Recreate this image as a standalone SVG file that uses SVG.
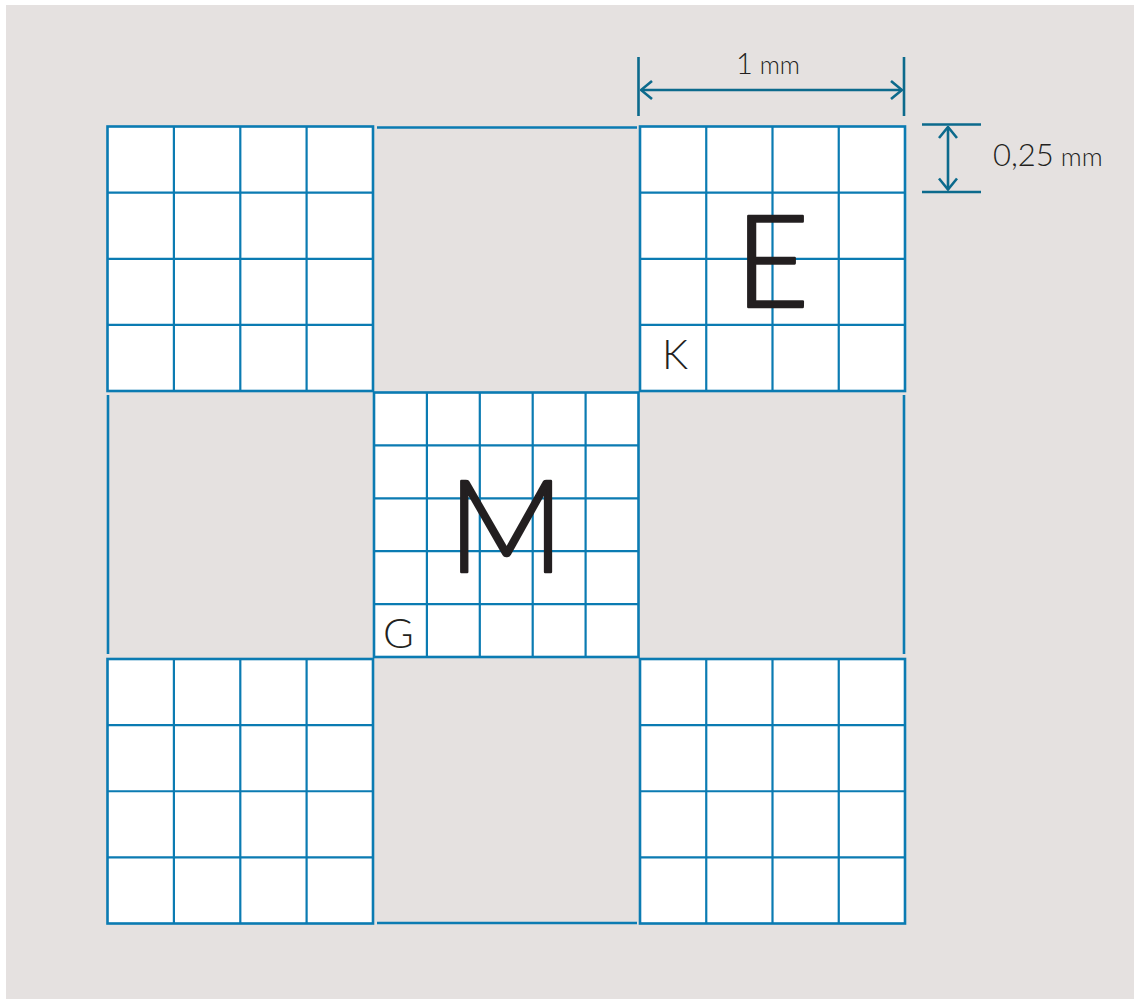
<svg xmlns="http://www.w3.org/2000/svg" width="1134" height="999" viewBox="0 0 1134 999">
  <defs>
    <style>
      .cell{fill:#ffffff;stroke:#0b7bb2;stroke-width:2.6}
      .grid{fill:none;stroke:#0b7bb2;stroke-width:2.2}
      .edge{fill:none;stroke:#0b7bb2;stroke-width:2.6}
      .dim{fill:none;stroke:#0c6a8c;stroke-width:2.6}
      .lbl{font-family:Lato,"Noto Sans","Liberation Sans",sans-serif;fill:#231f20}
      .big{font-weight:300;stroke:#231f20;stroke-width:2.6;stroke-linejoin:round}
    </style>
    <marker id="chev" viewBox="-13 -10 14 20" markerWidth="14" markerHeight="20" refX="0" refY="0" orient="auto-start-reverse" markerUnits="userSpaceOnUse">
      <path d="M-11,-9 L0,0 L-11,9" fill="none" stroke="#0c6a8c" stroke-width="2.6"/>
    </marker>
  </defs>
  <rect x="0" y="0" width="1134" height="999" fill="#ffffff"/>
  <rect x="6" y="5" width="1128" height="994" fill="#e5e1e0"/>

  <g id="grid-top-left">
    <rect class="cell" x="107.5" y="126.5" width="265.5" height="264.5"/>
    <path class="grid" d="M173.9,126.5V391M240.3,126.5V391M306.6,126.5V391M107.5,192.6H373M107.5,258.8H373M107.5,324.9H373"/>
  </g>
  <g id="grid-top-right">
    <rect class="cell" x="640" y="126.5" width="265" height="264.5"/>
    <path class="grid" d="M706.25,126.5V391M772.5,126.5V391M838.75,126.5V391M640,192.6H905M640,258.8H905M640,324.9H905"/>
    <text class="lbl big" x="735" y="307" font-size="128">E</text>
    <text class="lbl" x="662" y="369" font-size="41" font-weight="300">K</text>
  </g>
  <g id="grid-center">
    <rect class="cell" x="374" y="392.5" width="264.5" height="264.5"/>
    <path class="grid" d="M426.9,392.5V657M479.8,392.5V657M532.7,392.5V657M585.6,392.5V657M374,445.4H638.5M374,498.3H638.5M374,551.2H638.5M374,604.1H638.5"/>
    <text class="lbl big" x="506" y="572" font-size="128" text-anchor="middle">M</text>
    <text class="lbl" x="383" y="648" font-size="42" font-weight="300">G</text>
  </g>
  <g id="grid-bottom-left">
    <rect class="cell" x="107.5" y="659" width="265.5" height="264.5"/>
    <path class="grid" d="M173.9,659V923.5M240.3,659V923.5M306.6,659V923.5M107.5,725.1H373M107.5,791.25H373M107.5,857.4H373"/>
  </g>
  <g id="grid-bottom-right">
    <rect class="cell" x="640" y="659" width="265" height="264.5"/>
    <path class="grid" d="M706.25,659V923.5M772.5,659V923.5M838.75,659V923.5M640,725.1H905M640,791.25H905M640,857.4H905"/>
  </g>

  <g id="gap-edges">
    <path class="edge" d="M377,127.5H637M377,923H637M108,395V654M904,395V654"/>
  </g>

  <g id="dimensions">
    <path class="dim" d="M638.5,57V116M904,57V116"/>
    <path class="dim" d="M641,90H902" marker-start="url(#chev)" marker-end="url(#chev)"/>
    <text class="lbl" x="768" y="74" text-anchor="middle" font-weight="300"><tspan font-size="29">1</tspan><tspan font-size="25"> mm</tspan></text>
    <path class="dim" d="M922,124.5H981M922,192H981"/>
    <path class="dim" d="M948,127V189.5" marker-start="url(#chev)" marker-end="url(#chev)"/>
    <text class="lbl" x="993" y="166" font-weight="300"><tspan font-size="31">0,25</tspan><tspan font-size="26"> mm</tspan></text>
  </g>
</svg>
